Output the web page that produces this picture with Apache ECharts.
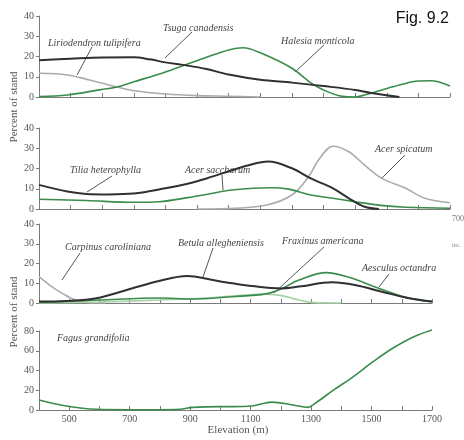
<!DOCTYPE html>
<html>
<head>
<meta charset="utf-8">
<script src="https://cdn.jsdelivr.net/npm/echarts@6/dist/echarts.min.js"></script>
<style>
html, body { margin: 0; padding: 0; background: #fff; }
#chart { width: 464px; height: 440px; }
</style>
</head>
<body>
<div id="chart"></div>
<script>
// [elevation (m), percent of stand]
// panel 1
var tsuga = [[400,18.2],[500,18.9],[600,19.5],[700,19.6],[750,18.6],[800,17.1],[870,15.5],[930,13.8],[1000,11.1],[1100,8.5],[1200,7.1],[1300,5.4],[1400,3.5],[1450,2.0],[1540,0]];
var halesia = [[400,0.2],[490,1.0],[590,3.5],[650,5.1],[700,7.5],[800,12.4],[870,16.3],[930,19.6],[1000,23.2],[1045,24.3],[1100,21.8],[1200,14.2],[1260,7.0],[1300,3.5],[1360,0.3],[1400,0],[1430,1.0],[1485,3.5],[1540,5.9],[1600,7.9],[1640,8.0],[1700,5.4]];
var liriodendron = [[400,11.7],[490,10.9],[560,8.4],[650,4.8],[700,3.1],[800,1.5],[900,0.7],[1000,0.4],[1100,0]];
// panel 2
var tilia = [[400,11.9],[490,8.6],[550,7.4],[620,7.2],[700,7.6],[800,10.2],[870,12.5],[930,15.1],[1010,19.1],[1060,21.5],[1125,23.4],[1200,20.1],[1260,15.1],[1330,10.2],[1380,5.3],[1430,1.1],[1475,0]];
var acerSaccharum = [[400,4.8],[550,4.2],[700,3.3],[780,3.6],[870,5.6],[950,7.8],[1010,9.4],[1130,10.5],[1190,9.8],[1260,6.9],[1330,5.3],[1400,3.6],[1480,1.8],[1560,0.9],[1700,0.4]];
var acerSpicatum = [[900,0],[1000,0.2],[1120,2.0],[1200,6.9],[1253,16.0],[1284,24.2],[1330,31.0],[1380,28.3],[1430,21.7],[1485,15.1],[1560,10.2],[1620,5.3],[1700,3.1]];
// panel 3
var betula = [[400,0.7],[490,1.0],[590,2.4],[690,6.6],[800,11.3],[890,13.7],[975,11.6],[1040,10.0],[1105,8.6],[1200,7.4],[1260,8.3],[1370,10.5],[1445,9.1],[1535,5.7],[1625,2.4],[1700,0.7]];
var aesculus = [[400,0.3],[600,1.5],[800,2.5],[900,2.0],[1040,3.2],[1150,4.6],[1200,7.1],[1260,11.6],[1350,15.4],[1425,13.0],[1525,7.4],[1625,2.4],[1700,0.7]];
var fraxinus = [[400,0],[600,0.5],[800,1.5],[950,2.5],[1040,3.5],[1150,4.5],[1210,3.5],[1260,1.5],[1310,0.2],[1400,0]];
var carpinus = [[400,13.3],[435,9.1],[477,4.9],[520,1.5],[565,0.2],[620,0]];
// panel 4
var fagus = [[400,10.1],[490,4.0],[590,0.7],[700,0.3],[800,0.3],[865,0.7],[910,2.7],[1000,3.4],[1040,3.4],[1105,4.0],[1170,8.0],[1240,5.1],[1290,2.7],[1310,6.0],[1375,20.3],[1440,33.8],[1505,48.9],[1570,62.5],[1640,74.2],[1700,81]];

var xLabels = [500, 700, 900, 1100, 1300, 1500, 1700];

var serif = '"Liberation Serif", "DejaVu Serif", serif';
var axisGray = '#7a7a7a';

function xAxis(i, labels) {
    return {
        type: 'value', gridIndex: i, min: 400, max: 1700, interval: 100,
        axisLine: { lineStyle: { color: axisGray, width: 1 } },
        axisTick: { inside: true, length: 4, lineStyle: { color: axisGray } },
        splitLine: { show: false },
        axisLabel: {
            show: labels, margin: 4, fontFamily: serif, fontSize: 10, color: '#555',
            formatter: function (v) { return xLabels.indexOf(v) >= 0 ? String(v) : ''; }
        }
    };
}

function yAxis(i, max, step) {
    return {
        type: 'value', gridIndex: i, min: 0, max: max, interval: step,
        axisLine: { show: true, lineStyle: { color: axisGray, width: 1 } },
        axisTick: { show: true, length: 3, lineStyle: { color: axisGray } },
        splitLine: { show: false },
        axisLabel: { margin: 5, fontFamily: serif, fontSize: 10, color: '#555' }
    };
}

function line(i, data, color, width) {
    return {
        type: 'line', xAxisIndex: i, yAxisIndex: i, data: data,
        smooth: 0.35, showSymbol: false, clip: false, silent: true,
        lineStyle: { color: color, width: width }
    };
}

function label(text, x, y) {
    return {
        type: 'text', x: x, y: y, silent: true,
        style: { text: text, font: 'italic 10px ' + serif, fill: '#444', textVerticalAlign: 'middle' }
    };
}

function leader(x1, y1, x2, y2) {
    return {
        type: 'line', silent: true,
        shape: { x1: x1, y1: y1, x2: x2, y2: y2 },
        style: { stroke: '#555', lineWidth: 1 }
    };
}

var black = '#303030', green = '#3a8c4c', gray = '#ababab', pale = '#a8d2a8';

var myChart = echarts.init(document.getElementById('chart'));
var option = {
    animation: false,
    grid: [
        { left: 39, top: 16, width: 411, height: 81 },
        { left: 39, top: 128, width: 411, height: 81 },
        { left: 39, top: 224, width: 393, height: 79 },
        { left: 39, top: 331, width: 393, height: 79 }
    ],
    xAxis: [xAxis(0, false), xAxis(1, false), xAxis(2, false), xAxis(3, true)],
    yAxis: [yAxis(0, 40, 10), yAxis(1, 40, 10), yAxis(2, 40, 10), yAxis(3, 80, 20)],
    series: [
        line(0, liriodendron, gray, 1.6),
        line(0, halesia, green, 1.6),
        line(0, tsuga, black, 2),
        line(1, acerSpicatum, gray, 1.6),
        line(1, acerSaccharum, green, 1.6),
        line(1, tilia, black, 2),
        line(2, carpinus, gray, 1.6),
        line(2, fraxinus, pale, 1.6),
        line(2, aesculus, green, 1.6),
        line(2, betula, black, 2),
        line(3, fagus, green, 1.6)
    ],
    graphic: [
        { type: 'text', x: 449, y: 19, silent: true,
          style: { text: 'Fig. 9.2', font: '16px "Liberation Sans", Arial, sans-serif', fill: '#111', textAlign: 'right', textVerticalAlign: 'middle' } },
        { type: 'text', x: 14, y: 107, rotation: Math.PI / 2, silent: true,
          style: { text: 'Percent of stand', font: '11px ' + serif, fill: '#555', textAlign: 'center', textVerticalAlign: 'middle' } },
        { type: 'text', x: 14, y: 312, rotation: Math.PI / 2, silent: true,
          style: { text: 'Percent of stand', font: '11px ' + serif, fill: '#555', textAlign: 'center', textVerticalAlign: 'middle' } },
        { type: 'text', x: 238, y: 430, silent: true,
          style: { text: 'Elevation (m)', font: '11px ' + serif, fill: '#555', textAlign: 'center', textVerticalAlign: 'middle' } },
        { type: 'text', x: 452, y: 219, silent: true,
          style: { text: '700', font: '8px ' + serif, fill: '#777', textVerticalAlign: 'middle' } },
        { type: 'text', x: 452, y: 245, silent: true,
          style: { text: 'inc.', font: '6px ' + serif, fill: '#888', textVerticalAlign: 'middle' } },

        label('Liriodendron tulipifera', 48, 43),
        label('Tsuga canadensis', 163, 28),
        label('Halesia monticola', 281, 41),
        label('Tilia heterophylla', 70, 170),
        label('Acer saccharum', 185, 170),
        label('Acer spicatum', 375, 149),
        label('Carpinus caroliniana', 65, 247),
        label('Betula allegheniensis', 178, 243),
        label('Fraxinus americana', 282, 241),
        label('Aesculus octandra', 362, 268),
        label('Fagus grandifolia', 57, 338),

        leader(92, 47, 77, 75),
        leader(192, 32, 165, 58),
        leader(324, 45, 295, 72),
        leader(112, 176, 87, 192),
        leader(222, 175, 223, 190),
        leader(405, 155, 382, 178),
        leader(80, 253, 62, 280),
        leader(213, 248, 203, 277),
        leader(324, 247, 274, 293),
        leader(389, 274, 379, 287)
    ]
};
myChart.setOption(option);
</script>
</body>
</html>
